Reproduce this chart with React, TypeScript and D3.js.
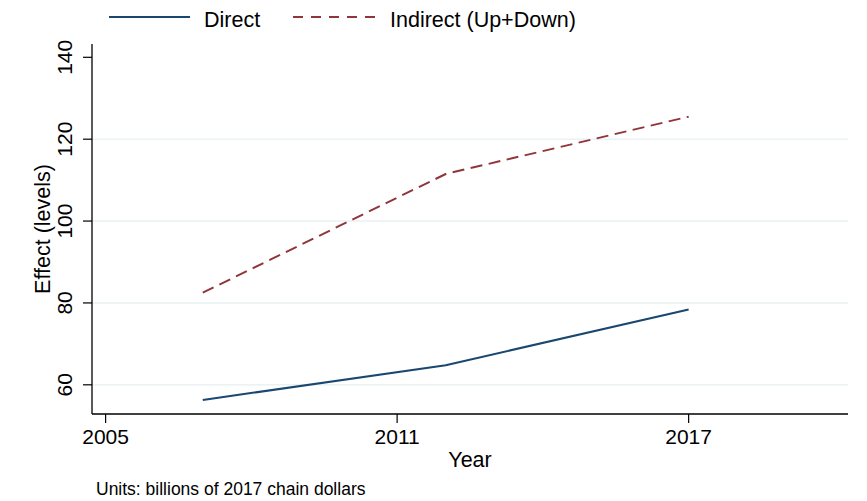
import { useEffect, useRef } from 'react';
import * as d3 from 'd3';

const years = [2007, 2012, 2017];
const direct = [56.3, 64.8, 78.4];
const indirect = [82.5, 111.5, 125.5];
const xTicks = [2005, 2011, 2017];
const yTicks = [60, 80, 100, 120, 140];
const seriesNames = ['Direct', 'Indirect (Up+Down)'];
const note = 'Units: billions of 2017 chain dollars';

const W = 867;
const H = 501;
const FONT = '"Liberation Sans", Arial, sans-serif';

export default function App() {
  const svgRef = useRef<SVGSVGElement>(null);

  useEffect(() => {
    if (!svgRef.current) return;
    const svg = d3.select(svgRef.current);
    svg.selectAll('*').remove();

    const left = 92;
    const right = 848;
    const top = 44;
    const bottom = 414;

    const x = d3.scaleLinear().domain([2004.72, 2020.28]).range([left, right]);
    const y = d3.scaleLinear().domain([52.87, 143.25]).range([bottom, top]);

    svg.append('rect').attr('width', W).attr('height', H).attr('fill', '#fff');

    // grid lines (inner ticks only)
    svg.append('g')
      .selectAll('line')
      .data(yTicks.filter(d => d < 140))
      .join('line')
      .attr('x1', left)
      .attr('x2', right)
      .attr('y1', d => y(d))
      .attr('y2', d => y(d))
      .attr('stroke', '#eaf2f3')
      .attr('stroke-width', 1.5);

    // axes
    svg.append('line')
      .attr('x1', left).attr('x2', left)
      .attr('y1', top).attr('y2', bottom)
      .attr('stroke', '#000').attr('stroke-width', 1.3);
    svg.append('line')
      .attr('x1', left).attr('x2', right)
      .attr('y1', bottom).attr('y2', bottom)
      .attr('stroke', '#000').attr('stroke-width', 1.3);

    const yAxis = svg.append('g');
    yAxis.selectAll('line')
      .data(yTicks)
      .join('line')
      .attr('x1', left - 9)
      .attr('x2', left)
      .attr('y1', d => y(d))
      .attr('y2', d => y(d))
      .attr('stroke', '#000')
      .attr('stroke-width', 1.2);
    yAxis.selectAll('text')
      .data(yTicks)
      .join('text')
      .attr('transform', d => `translate(72,${y(d)}) rotate(-90)`)
      .attr('text-anchor', 'middle')
      .attr('font-family', FONT)
      .attr('font-size', 21)
      .attr('fill', '#000')
      .text(d => d);

    const xAxis = svg.append('g');
    xAxis.selectAll('line')
      .data(xTicks)
      .join('line')
      .attr('x1', d => x(d))
      .attr('x2', d => x(d))
      .attr('y1', bottom)
      .attr('y2', bottom + 9)
      .attr('stroke', '#000')
      .attr('stroke-width', 1.2);
    xAxis.selectAll('text')
      .data(xTicks)
      .join('text')
      .attr('x', d => x(d))
      .attr('y', 443.5)
      .attr('text-anchor', 'middle')
      .attr('font-family', FONT)
      .attr('font-size', 21)
      .attr('fill', '#000')
      .text(d => d);

    // axis titles
    svg.append('text')
      .attr('x', (left + right) / 2)
      .attr('y', 467)
      .attr('text-anchor', 'middle')
      .attr('font-family', FONT)
      .attr('font-size', 21.5)
      .attr('fill', '#000')
      .text('Year');
    svg.append('text')
      .attr('transform', `translate(49.5,${(top + bottom) / 2}) rotate(-90)`)
      .attr('text-anchor', 'middle')
      .attr('font-family', FONT)
      .attr('font-size', 21.5)
      .attr('fill', '#000')
      .text('Effect (levels)');

    // lines
    const line = d3.line<number>()
      .x((_, i) => x(years[i]))
      .y(d => y(d));

    svg.append('path')
      .datum(direct)
      .attr('fill', 'none')
      .attr('stroke', '#1a476f')
      .attr('stroke-width', 2)
      .attr('stroke-linejoin', 'round')
      .attr('d', line);

    svg.append('path')
      .datum(indirect)
      .attr('fill', 'none')
      .attr('stroke', '#90353b')
      .attr('stroke-width', 2)
      .attr('stroke-dasharray', '12,6.5')
      .attr('stroke-linejoin', 'round')
      .attr('d', line);

    // legend
    const legend = [
      { name: seriesNames[0], color: '#1a476f', dash: null, x1: 109, x2: 190, tx: 204 },
      { name: seriesNames[1], color: '#90353b', dash: '10,8', x1: 293, x2: 375, tx: 390 },
    ];
    const lg = svg.append('g')
      .selectAll('g')
      .data(legend)
      .join('g');
    lg.append('line')
      .attr('x1', d => d.x1)
      .attr('x2', d => d.x2)
      .attr('y1', 17)
      .attr('y2', 17)
      .attr('stroke', d => d.color)
      .attr('stroke-width', 2)
      .attr('stroke-dasharray', d => d.dash);
    lg.append('text')
      .attr('x', d => d.tx)
      .attr('y', 26.5)
      .attr('font-family', FONT)
      .attr('font-size', 21.5)
      .attr('fill', '#000')
      .text(d => d.name);

    // note
    svg.append('text')
      .attr('x', 96)
      .attr('y', 494.5)
      .attr('font-family', FONT)
      .attr('font-size', 17.5)
      .attr('fill', '#000')
      .text(note);
  }, []);

  return (
    <svg
      ref={svgRef}
      width={W}
      height={H}
      style={{ position: 'absolute', left: 0, top: 0, display: 'block' }}
    />
  );
}
